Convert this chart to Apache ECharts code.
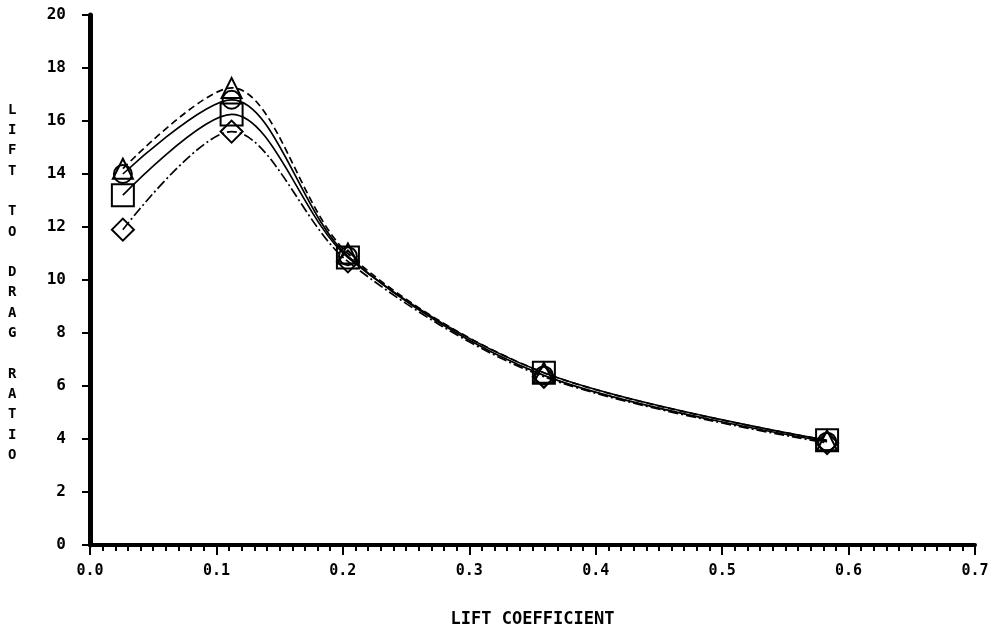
<!DOCTYPE html>
<html>
<head>
<meta charset="utf-8">
<style>
  html, body { margin: 0; padding: 0; background: #fff; }
  #chart { width: 1000px; height: 637px; }
</style>
<script src="https://cdn.jsdelivr.net/npm/echarts@6/dist/echarts.min.js"></script>
</head>
<body>
<div id="chart"></div>
<script>
// Lift coefficient at each test point
const liftCoefficient = [0.026, 0.112, 0.204, 0.359, 0.583];

// Lift-to-drag ratio for each configuration
const ratioTriangle = [14.2, 17.25, 11.0, 6.5, 3.95];
const ratioCircle   = [14.0, 16.8, 10.9, 6.4, 3.9];
const ratioSquare   = [13.2, 16.25, 10.85, 6.5, 3.95];
const ratioDiamond  = [11.9, 15.6, 10.7, 6.35, 3.85];

// Axis text
const xTickLabels = ['0.0', '0.1', '0.2', '0.3', '0.4', '0.5', '0.6', '0.7'];
const yTickLabels = ['0', '2', '4', '6', '8', '10', '12', '14', '16', '18', '20'];
const xTitle = 'LIFT COEFFICIENT';
const yTitleWords = ['LIFT', 'TO', 'DRAG', 'RATIO'];

const FONT = '"DejaVu Sans Mono", "Liberation Mono", monospace';

function pairs(ys) {
  return liftCoefficient.map((x, i) => [x, ys[i]]);
}

function curve(name, ys, symbol, size, lineType) {
  return {
    name: name,
    type: 'line',
    data: pairs(ys),
    smooth: 0.32,
    symbol: symbol,
    symbolSize: size,
    showSymbol: true,
    lineStyle: { color: '#000', width: 1.7, type: lineType },
    itemStyle: { color: 'rgba(255,255,255,0)', borderColor: '#000', borderWidth: 2 },
    emphasis: { disabled: true },
    z: 3
  };
}

const chart = echarts.init(document.getElementById('chart'), null, { renderer: 'canvas' });

chart.setOption({
  backgroundColor: '#fff',
  animation: false,
  grid: { left: 90, right: 25, top: 15, bottom: 92 },
  xAxis: {
    type: 'value',
    min: 0,
    max: 0.7,
    interval: 0.1,
    name: xTitle,
    nameLocation: 'middle',
    nameGap: 66,
    nameTextStyle: { fontFamily: FONT, fontSize: 17, fontWeight: 'bold', color: '#000' },
    axisLine: { show: true, onZero: false, lineStyle: { color: '#000', width: 4 } },
    axisTick: { show: true, inside: false, length: 10, lineStyle: { color: '#000', width: 2 } },
    minorTick: { show: true, splitNumber: 10, length: 6, lineStyle: { color: '#000', width: 2 } },
    axisLabel: {
      margin: 19,
      fontFamily: FONT,
      fontSize: 15,
      fontWeight: 'bold',
      color: '#000',
      formatter: (v) => xTickLabels[Math.round(v * 10)]
    },
    splitLine: { show: false }
  },
  yAxis: {
    type: 'value',
    min: 0,
    max: 20,
    interval: 2,
    axisLine: { show: true, onZero: false, lineStyle: { color: '#000', width: 5 } },
    axisTick: { show: true, inside: false, length: 8, lineStyle: { color: '#000', width: 2 } },
    axisLabel: {
      margin: 24,
      fontFamily: FONT,
      fontSize: 16,
      fontWeight: 'bold',
      color: '#000',
      formatter: (v) => yTickLabels[Math.round(v / 2)]
    },
    splitLine: { show: false }
  },
  graphic: [{
    type: 'text',
    left: 8,
    top: 100,
    style: {
      text: yTitleWords.map(w => w.split('').join('\n')).join('\n\n'),
      fontFamily: FONT,
      fontSize: 14,
      fontWeight: 'bold',
      lineHeight: 20.3,
      fill: '#000',
      align: 'left'
    }
  }],
  series: [
    curve('triangle', ratioTriangle, 'triangle', 20, [7, 4]),
    curve('circle', ratioCircle, 'circle', 18, 'solid'),
    curve('square', ratioSquare, 'rect', 22, 'solid'),
    curve('diamond', ratioDiamond, 'diamond', 22, [10, 3, 2, 3])
  ]
});
</script>
</body>
</html>
